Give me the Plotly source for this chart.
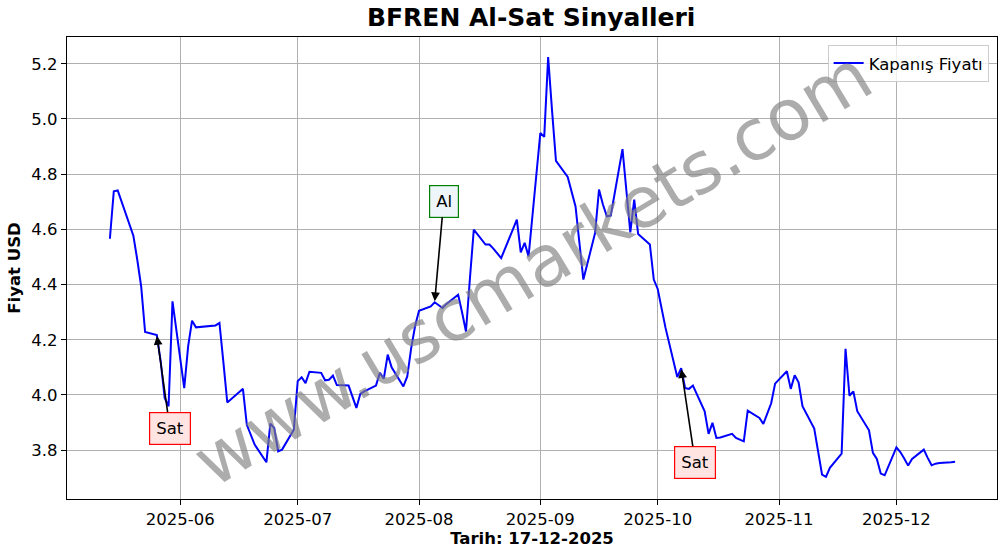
import plotly.graph_objects as go

dates = [
    "2025-05-14", "2025-05-15", "2025-05-16", "2025-05-20", "2025-05-21", "2025-05-22", "2025-05-23",
    "2025-05-26", "2025-05-27", "2025-05-28", "2025-05-29", "2025-05-30",
    "2025-06-02", "2025-06-03", "2025-06-04", "2025-06-05", "2025-06-10", "2025-06-11", "2025-06-12",
    "2025-06-13", "2025-06-16", "2025-06-17", "2025-06-18", "2025-06-19", "2025-06-20", "2025-06-23",
    "2025-06-24", "2025-06-25", "2025-06-26", "2025-06-27", "2025-06-30",
    "2025-07-01", "2025-07-02", "2025-07-03", "2025-07-04", "2025-07-07", "2025-07-08", "2025-07-09",
    "2025-07-10", "2025-07-11", "2025-07-14", "2025-07-16", "2025-07-17", "2025-07-18", "2025-07-21",
    "2025-07-22", "2025-07-23", "2025-07-24", "2025-07-25", "2025-07-28", "2025-07-29", "2025-07-30",
    "2025-07-31",
    "2025-08-01", "2025-08-04", "2025-08-05", "2025-08-06", "2025-08-07", "2025-08-08", "2025-08-11",
    "2025-08-12", "2025-08-13", "2025-08-14", "2025-08-15", "2025-08-18", "2025-08-19", "2025-08-20",
    "2025-08-21", "2025-08-22", "2025-08-25", "2025-08-26", "2025-08-27", "2025-08-28", "2025-08-29",
    "2025-09-01", "2025-09-02", "2025-09-03", "2025-09-04", "2025-09-05", "2025-09-08", "2025-09-09",
    "2025-09-10", "2025-09-11", "2025-09-12", "2025-09-15", "2025-09-16", "2025-09-17", "2025-09-18",
    "2025-09-19", "2025-09-22", "2025-09-23", "2025-09-24", "2025-09-25", "2025-09-26", "2025-09-29",
    "2025-09-30",
    "2025-10-01", "2025-10-02", "2025-10-03", "2025-10-06", "2025-10-07", "2025-10-08", "2025-10-09",
    "2025-10-10", "2025-10-13", "2025-10-14", "2025-10-15", "2025-10-16", "2025-10-17", "2025-10-20",
    "2025-10-21", "2025-10-22", "2025-10-23", "2025-10-24", "2025-10-27", "2025-10-28", "2025-10-30",
    "2025-10-31",
    "2025-11-03", "2025-11-04", "2025-11-05", "2025-11-06", "2025-11-07", "2025-11-10", "2025-11-11",
    "2025-11-12", "2025-11-13", "2025-11-14", "2025-11-17", "2025-11-18", "2025-11-19", "2025-11-20",
    "2025-11-21", "2025-11-24", "2025-11-25", "2025-11-26", "2025-11-27", "2025-11-28",
    "2025-12-01", "2025-12-02", "2025-12-03", "2025-12-04", "2025-12-05", "2025-12-08", "2025-12-09",
    "2025-12-10", "2025-12-11", "2025-12-12", "2025-12-15", "2025-12-16",
]

close = [
    4.566, 4.738, 4.741, 4.577, 4.490, 4.393, 4.228,
    4.217, 4.120, 3.989, 3.959, 4.339,
    4.025, 4.176, 4.269, 4.245, 4.252, 4.261, 4.120,
    3.973, 4.010, 4.022, 3.892, 3.856, 3.820, 3.756,
    3.896, 3.880, 3.796, 3.802, 3.874,
    4.050, 4.064, 4.043, 4.084, 4.080, 4.053, 4.055,
    4.070, 4.036, 4.034, 3.953, 4.004, 4.013, 4.034,
    4.080, 4.059, 4.146, 4.100, 4.031, 4.067, 4.170,
    4.250,
    4.305, 4.321, 4.336, 4.325, 4.315, 4.330, 4.363,
    4.300, 4.230, 4.420, 4.599, 4.545, 4.545, 4.530,
    4.512, 4.496, 4.600, 4.635, 4.517, 4.551, 4.502,
    4.949, 4.935, 5.224, 5.030, 4.848, 4.790, 4.735,
    4.683, 4.550, 4.418, 4.587, 4.744, 4.690, 4.647,
    4.650, 4.891, 4.740, 4.589, 4.708, 4.583, 4.545,
    4.418,
    4.384, 4.310, 4.243, 4.065, 4.097, 4.025, 4.022,
    4.034, 3.941, 3.859, 3.899, 3.844, 3.846, 3.859,
    3.844, 3.838, 3.832, 3.943, 3.917, 3.895, 3.970,
    4.041,
    4.086, 4.022, 4.071, 4.046, 3.959, 3.878, 3.790,
    3.711, 3.703, 3.736, 3.787, 4.167, 3.997, 4.013,
    3.941, 3.872, 3.790, 3.768, 3.715, 3.709,
    3.810, 3.793, 3.770, 3.744, 3.768, 3.802, 3.772,
    3.745, 3.751, 3.753, 3.756, 3.758,
]

signal_dates = ["2025-05-26", "2025-08-05", "2025-10-07"]
signal_labels = ["Sat", "Al", "Sat"]

title_text = "BFREN Al-Sat Sinyalleri"
x_title = "Tarih: 17-12-2025"
y_title = "Fiyat USD"
series_name = "Kapanış Fiyatı"
watermark = "www.uscmarkets.com"

FONT = "DejaVu Sans"
FS = 16.5

fig = go.Figure()
fig.add_trace(go.Scatter(
    x=dates, y=close, mode="lines", name=series_name,
    line=dict(color="#0000ff", width=2),
))

# offsets of label boxes from their arrow tips (pixels)
offsets = {"Sat": [(13, 93), (14, 94)], "Al": [(9, -101)]}
counters = {"Sat": 0, "Al": 0}
for d, lab in zip(signal_dates, signal_labels):
    yv = close[dates.index(d)]
    ax, ay = offsets[lab][counters[lab]]
    counters[lab] += 1
    if lab == "Sat":
        bg, bc = "#ffe4e1", "#ff0000"
    else:
        bg, bc = "#eef6fc", "#008000"
    fig.add_annotation(
        x=d, y=yv, xref="x", yref="y", text=lab, showarrow=True,
        ax=ax, ay=ay, arrowhead=2, arrowsize=1.1, arrowwidth=1.6, arrowcolor="black",
        standoff=1, font=dict(family=FONT, size=FS, color="black"),
        bgcolor=bg, bordercolor=bc, borderwidth=1.2, borderpad=6,
    )

fig.add_annotation(
    x=0.5, y=0.5, xref="paper", yref="paper", text=watermark, showarrow=False,
    textangle=-31, font=dict(family=FONT, size=71, color="rgba(128,128,128,0.65)"),
)

fig.update_layout(
    width=1006, height=554,
    margin=dict(l=67, r=9, t=37, b=55),
    paper_bgcolor="white", plot_bgcolor="white",
    font=dict(family=FONT, size=FS, color="black"),
    title=dict(text="<b>" + title_text + "</b>", x=0.528, xanchor="center", y=0.985, yanchor="top",
               font=dict(family=FONT, size=25, color="black")),
    showlegend=True,
    legend=dict(x=0.991, y=0.983, xanchor="right", yanchor="top",
                bgcolor="rgba(255,255,255,0.8)", bordercolor="#cccccc", borderwidth=1,
                font=dict(family=FONT, size=FS)),
)

fig.update_xaxes(
    type="date", range=["2025-05-03 01:00", "2025-12-26 17:00"],
    tick0="2025-06-01", dtick="M1", tickformat="%Y-%m",
    showgrid=True, gridcolor="#b0b0b0", gridwidth=1,
    showline=True, linecolor="black", linewidth=1.2, mirror=True,
    ticks="outside", ticklen=5, tickcolor="black",
    tickfont=dict(family=FONT, size=FS),
    title=dict(text="<b>" + x_title + "</b>", font=dict(family=FONT, size=FS), standoff=4),
    zeroline=False, automargin=False,
)
fig.update_yaxes(
    range=[3.623, 5.297], dtick=0.2, tick0=3.8, tickformat=".1f",
    showgrid=True, gridcolor="#b0b0b0", gridwidth=1,
    showline=True, linecolor="black", linewidth=1.2, mirror=True,
    ticks="outside", ticklen=5, tickcolor="black",
    tickfont=dict(family=FONT, size=FS),
    title=dict(text="<b>" + y_title + "</b>", font=dict(family=FONT, size=FS), standoff=6),
    zeroline=False, automargin=False,
)

fig.write_html(
    "out.html",
    config={"displayModeBar": False},
    post_script="document.body.style.margin='0';document.body.style.overflow='hidden';",
)
